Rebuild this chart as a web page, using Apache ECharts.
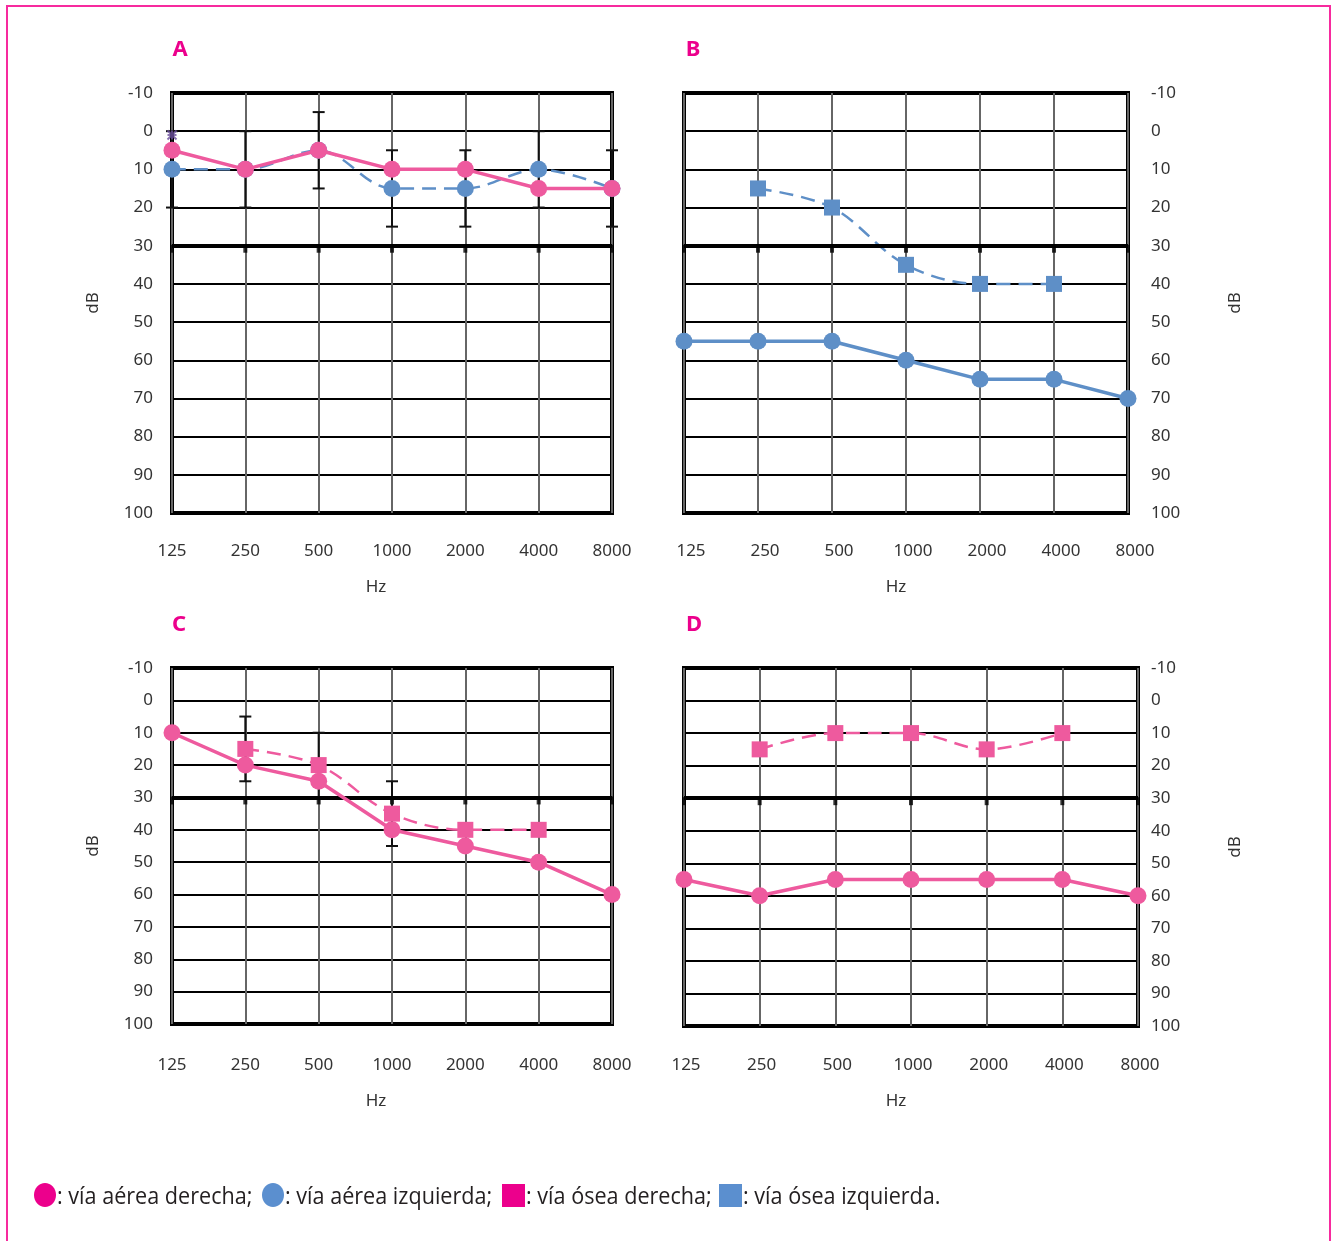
<!DOCTYPE html>
<html>
<head>
<meta charset="utf-8">
<script src="https://cdn.jsdelivr.net/npm/echarts@6/dist/echarts.min.js"></script>
<style>
html,body{margin:0;padding:0;background:#fff;}
#c{width:1335px;height:1241px;}
</style>
</head>
<body>
<div id="c"></div>
<script>
// ---- data ----
const freqs = ['125', '250', '500', '1000', '2000', '4000', '8000'];
const panelTitles = ['A', 'B', 'C', 'D'];

// Panel A
const A_airRight = [5, 10, 5, 10, 10, 15, 15];
const A_airLeft = [10, 10, 5, 15, 15, 10, 15];
const A_errLow = [0, 0, -5, 5, 5, 0, 5];
const A_errHigh = [20, 20, 15, 25, 25, 20, 25];
const A_star = [1, null, null, null, null, null, null];

// Panel B
const B_boneLeft = [null, 15, 20, 35, 40, 40, null];
const B_airLeft = [55, 55, 55, 60, 65, 65, 70];

// Panel C
const C_airRight = [10, 20, 25, 40, 45, 50, 60];
const C_boneRight = [null, 15, 20, 35, 40, 40, null];
const C_errLow = [null, 5, 10, 25, null, null, null];
const C_errHigh = [null, 25, 30, 45, null, null, null];

// Panel D
const D_boneRight = [null, 15, 10, 10, 15, 10, null];
const D_airRight = [55, 60, 55, 55, 55, 55, 60];

const dbMin = -10, dbMax = 100, dbStep = 10, boundary = 30;

const legendItems = [
  ': vía aérea derecha;',
  ': vía aérea izquierda;',
  ': vía ósea derecha;',
  ': vía ósea izquierda.'
];

// ---- styling ----
const PINK = '#EE5A9E';
const BLUE = '#5E8FC7';
const MAGENTA = '#EC008C';
const LBLUE = '#5B8FCF';
const FONT = '"Noto Sans", "DejaVu Sans", sans-serif';

const grids = [
  {left: 172, top: 93, width: 440, height: 420},
  {left: 684, top: 93, width: 444, height: 420},
  {left: 172, top: 668, width: 440, height: 356},
  {left: 684, top: 668, width: 454, height: 358}
];
const rightSide = [false, true, false, true];
const yLabelMargin = [19, 23, 19, 13];
const yNameGap = [70, 99, 70, 89];
const xLabelMargin = [30, 30, 33, 31];
const xLabelPad = [[0, 0, 0, 0], [0, 0, 0, 14], [0, 0, 0, 0], [0, 0, 0, 4]];
const xNameGap = [66, 66, 69, 67];
const xNamePad = [[0, 32, 0, 0], [0, 20, 0, 0], [0, 32, 0, 0], [0, 30, 0, 0]];

const option = {
  backgroundColor: '#fff',
  animation: false,
  grid: grids.map(g => Object.assign({show: true, borderColor: '#000', borderWidth: 4, backgroundColor: 'transparent'}, g)),
  xAxis: grids.map((g, i) => ({
    type: 'category', gridIndex: i, data: freqs, boundaryGap: false,
    axisLine: {show: false}, axisTick: {show: false},
    axisLabel: {color: '#333', fontSize: 17, fontFamily: FONT, margin: xLabelMargin[i], padding: xLabelPad[i]},
    splitLine: {show: true, lineStyle: {color: '#666', width: 2}},
    name: 'Hz', nameLocation: 'middle', nameGap: xNameGap[i],
    nameTextStyle: {color: '#333', fontSize: 17, fontFamily: FONT, padding: xNamePad[i]}
  })),
  yAxis: grids.map((g, i) => ({
    type: 'value', gridIndex: i, min: dbMin, max: dbMax, interval: dbStep, inverse: true,
    position: rightSide[i] ? 'right' : 'left',
    axisLine: {show: false}, axisTick: {show: false},
    axisLabel: {color: '#333', fontSize: 17, fontFamily: FONT, margin: yLabelMargin[i]},
    splitLine: {show: true, lineStyle: {color: '#000', width: 2}},
    name: 'dB', nameLocation: 'middle', nameGap: yNameGap[i], nameRotate: 90,
    nameTextStyle: {color: '#333', fontSize: 17, fontFamily: FONT}
  })),
  series: [],
  graphic: []
};

function errSeries(gi, lows, highs) {
  const data = [];
  lows.forEach((l, k) => { if (l !== null) data.push([k, l, highs[k]]); });
  return {
    type: 'custom', xAxisIndex: gi, yAxisIndex: gi, z: 3, silent: true,
    data: data,
    renderItem: function (params, api) {
      const p1 = api.coord([api.value(0), api.value(1)]);
      const p2 = api.coord([api.value(0), api.value(2)]);
      const w = 6;
      const st = {stroke: '#111', lineWidth: 2};
      return {type: 'group', children: [
        {type: 'line', shape: {x1: p1[0], y1: p1[1], x2: p2[0], y2: p2[1]}, style: st},
        {type: 'line', shape: {x1: p1[0] - w, y1: p1[1], x2: p1[0] + w, y2: p1[1]}, style: st},
        {type: 'line', shape: {x1: p2[0] - w, y1: p2[1], x2: p2[0] + w, y2: p2[1]}, style: st}
      ]};
    }
  };
}

function boundarySeries(gi) {
  return {
    type: 'scatter', xAxisIndex: gi, yAxisIndex: gi, z: 1, silent: true,
    data: freqs.map(() => boundary),
    symbol: 'rect', symbolSize: [4, 8], symbolOffset: [0, 3],
    itemStyle: {color: '#000'},
    markLine: {
      silent: true, symbol: 'none', label: {show: false},
      lineStyle: {color: '#000', width: 4, type: 'solid'},
      data: [{yAxis: boundary}]
    }
  };
}

function airSeries(gi, data, color) {
  return {
    type: 'line', xAxisIndex: gi, yAxisIndex: gi, z: 5, data: data,
    symbol: 'circle', symbolSize: 17,
    lineStyle: {color: color, width: 3.5},
    itemStyle: {color: color}
  };
}
function dashedSeries(gi, data, color, sym, size) {
  return {
    type: 'line', xAxisIndex: gi, yAxisIndex: gi, z: 4, data: data, smooth: 0.35,
    symbol: sym, symbolSize: size,
    lineStyle: {color: color, width: 2.5, type: [14, 8]},
    itemStyle: {color: color}
  };
}

// Panel A
option.series.push(boundarySeries(0));
option.series.push(errSeries(0, A_errLow, A_errHigh));
option.series.push(dashedSeries(0, A_airLeft, BLUE, 'circle', 17));
option.series.push(airSeries(0, A_airRight, PINK));
option.series.push({
  type: 'scatter', xAxisIndex: 0, yAxisIndex: 0, z: 6, data: A_star,
  symbol: 'path://M0,0L10,10M10,0L0,10M5,0L5,10M0,5L10,5', symbolSize: 9,
  itemStyle: {color: 'none', borderColor: '#6B4F9E', borderWidth: 2}
});
// Panel B
option.series.push(boundarySeries(1));
option.series.push(dashedSeries(1, B_boneLeft, BLUE, 'rect', 16));
option.series.push(airSeries(1, B_airLeft, BLUE));
// Panel C
option.series.push(boundarySeries(2));
option.series.push(errSeries(2, C_errLow, C_errHigh));
option.series.push(dashedSeries(2, C_boneRight, PINK, 'rect', 16));
option.series.push(airSeries(2, C_airRight, PINK));
// Panel D
option.series.push(boundarySeries(3));
option.series.push(dashedSeries(3, D_boneRight, PINK, 'rect', 16));
option.series.push(airSeries(3, D_airRight, PINK));

// Frame
option.graphic.push({
  type: 'rect', silent: true,
  shape: {x: 7, y: 6, width: 1323, height: 1260},
  style: {fill: 'none', stroke: '#F72A9E', lineWidth: 2}
});
// Panel titles
const titlePos = [[180, 50], [693, 50], [179, 625], [694, 625]];
panelTitles.forEach((t, i) => {
  option.graphic.push({
    type: 'text', x: titlePos[i][0], y: titlePos[i][1], silent: true,
    style: {text: t, fill: MAGENTA, font: 'bold 22px ' + FONT, textAlign: 'center', textVerticalAlign: 'middle'}
  });
});
// Legend
const LFONT = '24px "Open Sans", "Noto Sans", sans-serif';
const legY = 1197;
const lsx = 0.9;
function legText(x, t) {
  return {type: 'text', x: x, y: legY, scaleX: lsx, silent: true,
    style: {text: t, font: LFONT, fill: '#231F20', textVerticalAlign: 'middle'}};
}
option.graphic.push({type: 'ellipse', shape: {cx: 45, cy: legY - 2, rx: 11, ry: 12}, style: {fill: MAGENTA}, silent: true});
option.graphic.push(legText(57, legendItems[0]));
option.graphic.push({type: 'ellipse', shape: {cx: 273, cy: legY - 2, rx: 11, ry: 12}, style: {fill: LBLUE}, silent: true});
option.graphic.push(legText(285, legendItems[1]));
option.graphic.push({type: 'rect', shape: {x: 502, y: legY - 13, width: 23, height: 23}, style: {fill: MAGENTA}, silent: true});
option.graphic.push(legText(526, legendItems[2]));
option.graphic.push({type: 'rect', shape: {x: 719, y: legY - 13, width: 23, height: 23}, style: {fill: LBLUE}, silent: true});
option.graphic.push(legText(743, legendItems[3]));

const chart = echarts.init(document.getElementById('c'), null, {renderer: 'canvas'});
chart.setOption(option);
</script>
</body>
</html>
